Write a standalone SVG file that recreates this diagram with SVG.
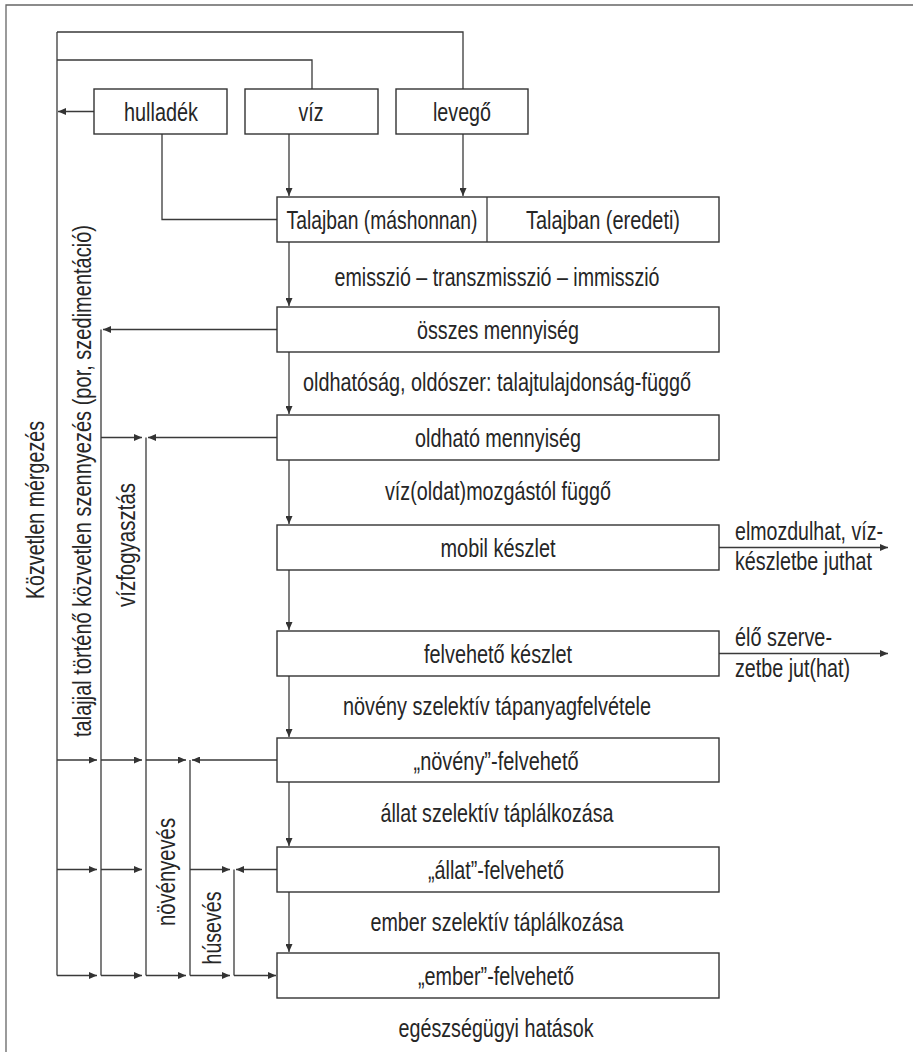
<svg xmlns="http://www.w3.org/2000/svg" width="913" height="1052" viewBox="0 0 913 1052">
  <style>
    .box { fill: #ffffff; stroke: #333333; stroke-width: 1.4; }
    .ln { fill: none; stroke: #3a3a3a; stroke-width: 1.3; }
    .ar { fill: none; stroke: #3a3a3a; stroke-width: 1.3; marker-end: url(#tip); }
    .frame { fill: none; stroke: #666666; stroke-width: 1.3; }
    .t { font-family: "Liberation Sans Narrow", "Liberation Sans", Arial, sans-serif; font-size: 26px; fill: #262626; text-anchor: middle; }
    .s { text-anchor: start; }
  </style>
  <defs>
    <marker id="tip" viewBox="0 0 8 7" refX="8" refY="3.5" markerWidth="8" markerHeight="7" markerUnits="userSpaceOnUse" orient="auto">
      <path d="M0,0 L8,3.5 L0,7 z" fill="#333333"/>
    </marker>
  </defs>

  <rect x="0" y="0" width="913" height="1052" fill="#ffffff"/>

  <!-- page frame (top and left rules) -->
  <path class="frame" d="M913,5 H6 V1052"/>

  <!-- connectors -->
  <g id="connectors">
    <!-- source feedback lines to the far-left trunk -->
    <path class="ln" d="M57,32 V975.5"/>
    <path class="ln" d="M57,32 H463 V89"/>
    <path class="ln" d="M57,60 H312 V89"/>
    <path class="ar" d="M94,111.5 H58"/>
    <path class="ln" d="M162,134 V219.5 H277"/>
    <path class="ar" d="M289,134 V196"/>
    <path class="ar" d="M463,134 V196"/>

    <!-- main downward chain -->
    <path class="ar" d="M289,242 V306"/>
    <path class="ar" d="M289,352 V414"/>
    <path class="ar" d="M289,460 V524"/>
    <path class="ar" d="M289,570 V630"/>
    <path class="ar" d="M289,676 V737"/>
    <path class="ar" d="M289,782 V846"/>
    <path class="ar" d="M289,892 V952"/>

    <!-- outgoing arrows on the right -->
    <path class="ar" d="M719,547.5 H888"/>
    <path class="ar" d="M719,653.5 H888"/>

    <!-- left-hand pathway columns -->
    <path class="ar" d="M277,329.5 H103"/>
    <path class="ln" d="M101,329.5 V975.5"/>
    <path class="ar" d="M101,437.5 H142"/>
    <path class="ar" d="M277,437.5 H148"/>
    <path class="ln" d="M146,437.5 V975.5"/>

    <path class="ar" d="M57,760 H97"/>
    <path class="ar" d="M101,760 H142"/>
    <path class="ar" d="M146,760 H186"/>
    <path class="ar" d="M277,760 H192"/>
    <path class="ln" d="M190,760 V975.5"/>

    <path class="ar" d="M57,869.5 H97"/>
    <path class="ar" d="M101,869.5 H142"/>
    <path class="ar" d="M190,869.5 H230"/>
    <path class="ar" d="M277,869.5 H236"/>
    <path class="ln" d="M234,869.5 V975.5"/>

    <path class="ar" d="M57,975.5 H97"/>
    <path class="ar" d="M101,975.5 H142"/>
    <path class="ar" d="M146,975.5 H186"/>
    <path class="ar" d="M190,975.5 H230"/>
    <path class="ar" d="M234,975.5 H276"/>

    <!-- pathway labels (vertical) -->
    <text class="t" transform="translate(44,510) rotate(-90)" textLength="178" lengthAdjust="spacingAndGlyphs">Közvetlen mérgezés</text>
    <text class="t" transform="translate(91,481) rotate(-90)" textLength="512" lengthAdjust="spacingAndGlyphs">talajjal történő közvetlen szennyezés (por, szedimentáció)</text>
    <text class="t" transform="translate(135,545) rotate(-90)" textLength="124" lengthAdjust="spacingAndGlyphs">vízfogyasztás</text>
    <text class="t" transform="translate(175,872) rotate(-90)" textLength="108" lengthAdjust="spacingAndGlyphs">növényevés</text>
    <text class="t" transform="translate(221,928) rotate(-90)" textLength="73" lengthAdjust="spacingAndGlyphs">húsevés</text>

    <!-- step labels between the boxes -->
    <text class="t" x="497" y="286" textLength="325" lengthAdjust="spacingAndGlyphs">emisszió – transzmisszió – immisszió</text>
    <text class="t" x="497" y="391" textLength="388" lengthAdjust="spacingAndGlyphs">oldhatóság, oldószer: talajtulajdonság-függő</text>
    <text class="t" x="498" y="500" textLength="226" lengthAdjust="spacingAndGlyphs">víz(oldat)mozgástól függő</text>
    <text class="t" x="497" y="715" textLength="308" lengthAdjust="spacingAndGlyphs">növény szelektív tápanyagfelvétele</text>
    <text class="t" x="497" y="822" textLength="233" lengthAdjust="spacingAndGlyphs">állat szelektív táplálkozása</text>
    <text class="t" x="497" y="931" textLength="253" lengthAdjust="spacingAndGlyphs">ember szelektív táplálkozása</text>
    <text class="t" x="496" y="1037" textLength="195" lengthAdjust="spacingAndGlyphs">egészségügyi hatások</text>

    <!-- right-hand outcome labels -->
    <text class="t s" x="735" y="540" textLength="148" lengthAdjust="spacingAndGlyphs">elmozdulhat, víz-</text>
    <text class="t s" x="735" y="570" textLength="137" lengthAdjust="spacingAndGlyphs">készletbe juthat</text>
    <text class="t s" x="735" y="646" textLength="97" lengthAdjust="spacingAndGlyphs">élő szerve-</text>
    <text class="t s" x="735" y="677" textLength="115" lengthAdjust="spacingAndGlyphs">zetbe jut(hat)</text>
  </g>

  <!-- source nodes -->
  <g id="n-hulladek">
    <rect class="box" x="94" y="89" width="133" height="45"/>
    <text class="t" x="161" y="121" textLength="74" lengthAdjust="spacingAndGlyphs">hulladék</text>
  </g>
  <g id="n-viz">
    <rect class="box" x="245" y="89" width="133" height="45"/>
    <text class="t" x="311" y="121" textLength="25" lengthAdjust="spacingAndGlyphs">víz</text>
  </g>
  <g id="n-levego">
    <rect class="box" x="396" y="89" width="132" height="45"/>
    <text class="t" x="462" y="121" textLength="58" lengthAdjust="spacingAndGlyphs">levegő</text>
  </g>

  <!-- soil origin node (split) -->
  <g id="n-talajban">
    <rect class="box" x="277" y="197" width="442" height="45"/>
    <path class="ln" d="M487,197 V242"/>
    <text class="t" x="382" y="229" textLength="191" lengthAdjust="spacingAndGlyphs">Talajban (máshonnan)</text>
    <text class="t" x="603" y="229" textLength="154" lengthAdjust="spacingAndGlyphs">Talajban (eredeti)</text>
  </g>

  <!-- fractions chain -->
  <g id="n-osszes">
    <rect class="box" x="277" y="307" width="442" height="45"/>
    <text class="t" x="498" y="339" textLength="162" lengthAdjust="spacingAndGlyphs">összes mennyiség</text>
  </g>
  <g id="n-oldhato">
    <rect class="box" x="277" y="415" width="442" height="45"/>
    <text class="t" x="498" y="447" textLength="166" lengthAdjust="spacingAndGlyphs">oldható mennyiség</text>
  </g>
  <g id="n-mobil">
    <rect class="box" x="277" y="525" width="442" height="45"/>
    <text class="t" x="498" y="557" textLength="115" lengthAdjust="spacingAndGlyphs">mobil készlet</text>
  </g>
  <g id="n-felveheto">
    <rect class="box" x="277" y="631" width="442" height="45"/>
    <text class="t" x="498" y="663" textLength="148" lengthAdjust="spacingAndGlyphs">felvehető készlet</text>
  </g>
  <g id="n-noveny">
    <rect class="box" x="277" y="738" width="442" height="44"/>
    <text class="t" x="496" y="770" textLength="165" lengthAdjust="spacingAndGlyphs">„növény”-felvehető</text>
  </g>
  <g id="n-allat">
    <rect class="box" x="277" y="847" width="442" height="45"/>
    <text class="t" x="496" y="879" textLength="136" lengthAdjust="spacingAndGlyphs">„állat”-felvehető</text>
  </g>
  <g id="n-ember">
    <rect class="box" x="277" y="953" width="442" height="45"/>
    <text class="t" x="496" y="985" textLength="156" lengthAdjust="spacingAndGlyphs">„ember”-felvehető</text>
  </g>
</svg>
